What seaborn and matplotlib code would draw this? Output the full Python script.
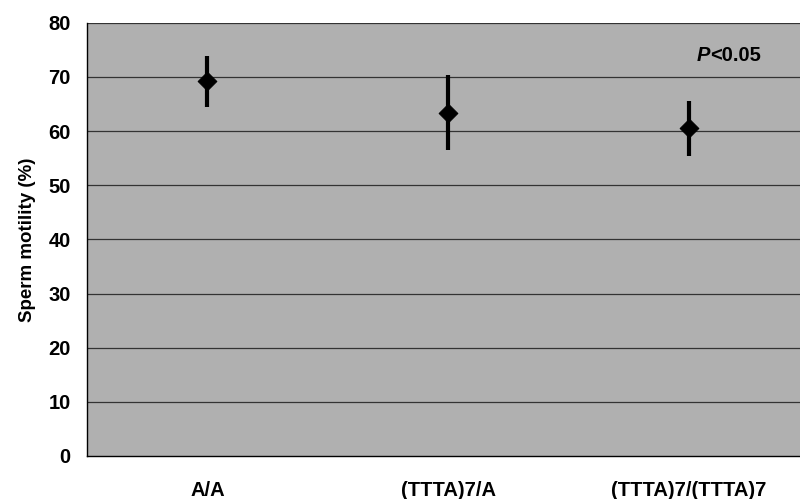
import matplotlib
matplotlib.use("Agg")
import matplotlib.pyplot as plt
import seaborn as sns
import pandas as pd
import numpy as np

genotypes = ["A/A", "(TTTA)7/A", "(TTTA)7/(TTTA)7"]
motility_mean = [69.2, 63.4, 60.5]
motility_err = [4.7, 6.9, 5.1]
y_ticks = [0, 10, 20, 30, 40, 50, 60, 70, 80]

sns.set_style("white")
plt.rcParams["font.family"] = ["Liberation Sans", "DejaVu Sans"]
plt.rcParams["font.weight"] = "bold"
plt.rcParams["text.color"] = "black"
plt.rcParams["axes.labelcolor"] = "black"
plt.rcParams["xtick.color"] = "black"
plt.rcParams["ytick.color"] = "black"

df = pd.DataFrame({"genotype": genotypes, "mean": motility_mean, "err": motility_err})

fig = plt.figure(figsize=(8, 4.99), dpi=100)
ax = fig.add_axes([0.109, 0.0862, 0.902, 0.868])
ax.set_facecolor("#B0B0B0")

for v in y_ticks[1:]:
    ax.axhline(v, color="#333333", lw=0.9, zorder=1)

xpos = np.arange(len(genotypes))
ax.errorbar(xpos, df["mean"], yerr=df["err"], fmt="none", ecolor="black",
            elinewidth=3, capsize=0, zorder=3)
sns.scatterplot(data=df, x="genotype", y="mean", marker="D", s=90, color="black",
                edgecolor="black", ax=ax, zorder=4, legend=False)

fs = 14.5
ax.set_xlim(-0.5, len(genotypes) - 0.5)
ax.set_ylim(0, 80)
ax.set_yticks(y_ticks)
ax.set_yticklabels([str(t) for t in y_ticks], fontsize=fs, fontweight="bold")
ax.set_xticks(xpos)
ax.set_xticklabels(genotypes, fontsize=fs, fontweight="bold")
ax.tick_params(axis="x", which="major", length=0, pad=18)
ax.set_xticks(xpos[:-1] + 0.5, minor=True)
ax.tick_params(axis="x", which="minor", direction="in", length=6, width=0.8, color="black")
ax.tick_params(axis="y", length=0, pad=12)

ax.set_xlabel("")
ax.set_ylabel("Sperm motility (%)", fontsize=13.5, fontweight="bold", labelpad=9)

for s in ["top", "right"]:
    ax.spines[s].set_visible(False)
for s in ["left", "bottom"]:
    ax.spines[s].set_color("black")
    ax.spines[s].set_linewidth(1.0)

ax.text(0.845, 0.925, "P", transform=ax.transAxes, fontsize=fs, fontweight="bold",
        fontstyle="italic", ha="left", va="center")
ax.text(0.8635, 0.925, "<0.05", transform=ax.transAxes, fontsize=fs, fontweight="bold",
        ha="left", va="center")

fig.savefig("out.png", dpi=100, facecolor="white")
